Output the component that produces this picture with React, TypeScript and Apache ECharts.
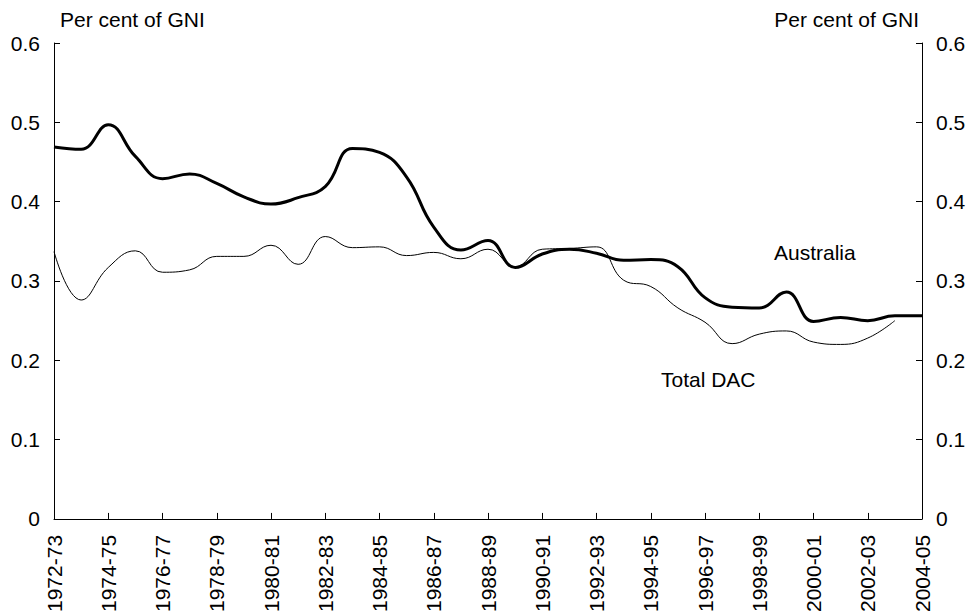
import React, { useEffect, useRef } from "react";
import * as echarts from "echarts";

const categories = [
  "1972-73","1973-74","1974-75","1975-76","1976-77","1977-78","1978-79","1979-80",
  "1980-81","1981-82","1982-83","1983-84","1984-85","1985-86","1986-87","1987-88",
  "1988-89","1989-90","1990-91","1991-92","1992-93","1993-94","1994-95","1995-96",
  "1996-97","1997-98","1998-99","1999-00","2000-01","2001-02","2002-03","2003-04","2004-05",
];

const australia = [
  0.469, 0.466, 0.497, 0.457, 0.429, 0.435, 0.423, 0.406,
  0.397, 0.405, 0.419, 0.467, 0.462, 0.431, 0.368, 0.339,
  0.351, 0.317, 0.334, 0.340, 0.335, 0.326, 0.327, 0.318,
  0.279, 0.267, 0.266, 0.286, 0.249, 0.254, 0.250, 0.256, 0.256,
];

const totalDac: (number | null)[] = [
  0.337, 0.276, 0.317, 0.338, 0.311, 0.314, 0.331, 0.331,
  0.345, 0.321, 0.356, 0.342, 0.343, 0.332, 0.336, 0.328,
  0.340, 0.318, 0.340, 0.341, 0.343, 0.301, 0.293, 0.266,
  0.248, 0.221, 0.233, 0.237, 0.223, 0.220, 0.228, 0.250, null,
];

const yTitle = "Per cent of GNI";
const seriesNames = ["Australia", "Total DAC"];

const FONT = "Liberation Sans, Arial, sans-serif";
const FS = 21;

export default function App() {
  const ref = useRef<HTMLDivElement>(null);
  useEffect(() => {
    if (!ref.current) return;
    const chart = echarts.init(ref.current, undefined, { renderer: "svg" });
    const axisCommon = {
      type: "value" as const,
      min: 0,
      max: 0.6,
      interval: 0.1,
      splitLine: { show: false },
      axisLine: { show: true, lineStyle: { color: "#000", width: 1 } },
      axisTick: { show: true, inside: true, length: 6, lineStyle: { color: "#000" } },
      axisLabel: { color: "#000", fontSize: FS, fontFamily: FONT, margin: 14 },
    };
    chart.setOption({
      animation: false,
      backgroundColor: "#fff",
      grid: { left: 54, right: 51, top: 43, bottom: 96, containLabel: false },
      xAxis: {
        type: "category",
        data: categories,
        boundaryGap: false,
        axisLine: { lineStyle: { color: "#000", width: 1 } },
        axisTick: { show: true, inside: true, length: 6, interval: 1, lineStyle: { color: "#000" } },
        axisLabel: {
          interval: 1,
          rotate: 90,
          color: "#000",
          fontSize: FS,
          fontFamily: FONT,
          margin: 16,
        },
      },
      yAxis: [
        { ...axisCommon, position: "left" },
        { ...axisCommon, position: "right" },
      ],
      graphic: [
        { type: "text", left: 60, top: 9, style: { text: yTitle, fontSize: FS, fontFamily: FONT, fill: "#000" } },
        { type: "text", right: 54, top: 9, style: { text: yTitle, fontSize: FS, fontFamily: FONT, fill: "#000" } },
        { type: "text", left: 774, top: 242, style: { text: seriesNames[0], fontSize: FS, fontFamily: FONT, fill: "#000" } },
        { type: "text", left: 661, top: 369, style: { text: seriesNames[1], fontSize: FS, fontFamily: FONT, fill: "#000" } },
      ],
      series: [
        {
          name: seriesNames[0],
          type: "line",
          data: australia,
          smooth: 0.45,
          symbol: "none",
          lineStyle: { color: "#000", width: 3 },
          yAxisIndex: 0,
        },
        {
          name: seriesNames[1],
          type: "line",
          data: totalDac,
          smooth: 0.45,
          symbol: "none",
          lineStyle: { color: "#000", width: 1 },
          yAxisIndex: 0,
        },
      ],
    });
    return () => chart.dispose();
  }, []);
  return <div ref={ref} style={{ width: 973, height: 615, position: "absolute", left: 0, top: 0 }} />;
}
